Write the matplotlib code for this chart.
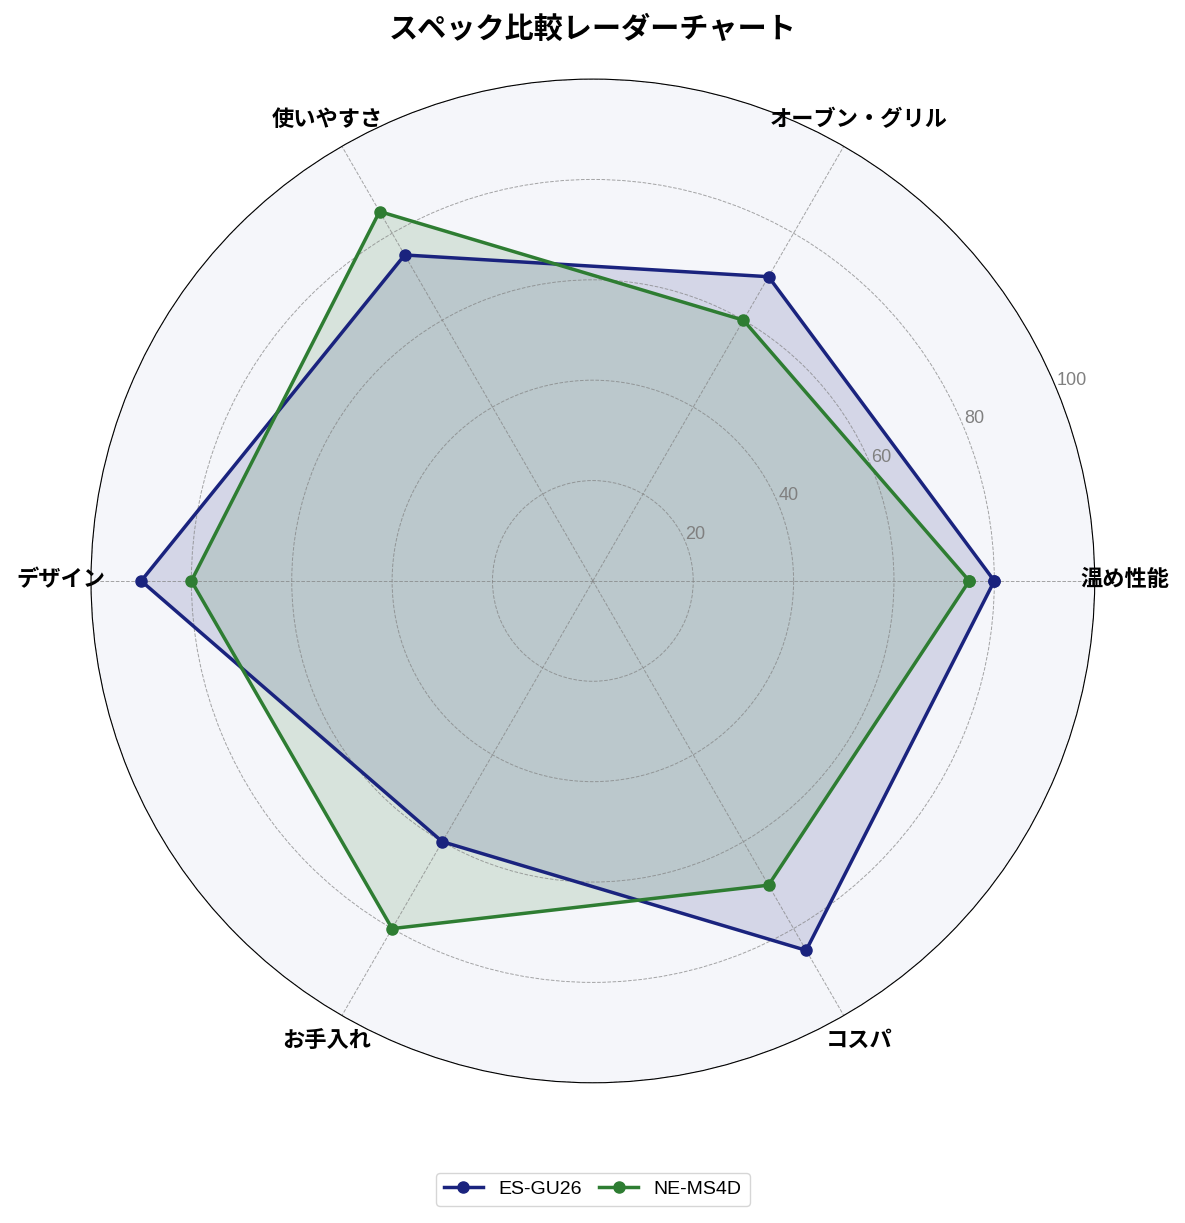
import numpy as np
import matplotlib.pyplot as plt

plt.rcParams['font.family'] = ['Liberation Sans', 'Noto Sans CJK JP']

categories = ['温め性能', 'オーブン・グリル', '使いやすさ', 'デザイン', 'お手入れ', 'コスパ']
es_gu26 = [80, 70, 75, 90, 60, 85]
ne_ms4d = [75, 60, 85, 80, 80, 70]
series_names = ['ES-GU26', 'NE-MS4D']
colors = ['#1a237e', '#2e7d32']
r_ticks = [20, 40, 60, 80, 100]

n = len(categories)
angles = np.linspace(0, 2 * np.pi, n, endpoint=False).tolist()
angles += angles[:1]

fig = plt.figure(figsize=(11.85, 12.23), dpi=100)
ax = fig.add_axes([0.0768, 0.1145, 0.847, 0.821], polar=True)
ax.set_facecolor('#f5f6fa')

for name, vals, c in zip(series_names, [es_gu26, ne_ms4d], colors):
    v = list(vals) + vals[:1]
    ax.plot(angles, v, color=c, linewidth=2.5, marker='o', markersize=8, label=name)
    ax.fill(angles, v, color=c, alpha=0.15)

ax.set_ylim(0, 100)
ax.set_yticks(r_ticks)
ax.set_yticklabels([str(t) for t in r_ticks], color='gray', fontsize=13)
ax.set_rlabel_position(22.5)
ax.set_xticks(angles[:-1])
ax.set_xticklabels(categories, fontsize=16, fontweight='bold')
ax.tick_params(axis='x', pad=11)
ax.grid(color='gray', linestyle='--', linewidth=0.7, alpha=0.7)
ax.spines['polar'].set_color('black')

ax.set_title('スペック比較レーダーチャート', fontsize=21, fontweight='bold', pad=30)
ax.legend(loc='upper center', bbox_to_anchor=(0.5, -0.08), ncol=2, fontsize=14,
          columnspacing=0.9)

fig.savefig('out.png', dpi=100)
